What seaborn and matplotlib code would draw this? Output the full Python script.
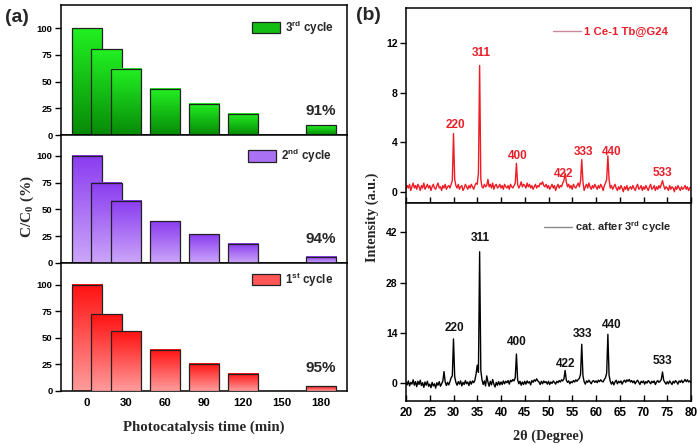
import numpy as np
import pandas as pd
import matplotlib
matplotlib.use("Agg")
import matplotlib.pyplot as plt
import seaborn as sns
from matplotlib.patches import Patch
from matplotlib.colors import to_rgb

sns.set_style("ticks")
plt.rcParams['font.family'] = ['Liberation Sans', 'DejaVu Sans']
plt.rcParams['font.weight'] = 'bold'
plt.rcParams['mathtext.fontset'] = 'custom'
plt.rcParams['mathtext.bf'] = 'Liberation Sans:bold'
plt.rcParams['mathtext.rm'] = 'Liberation Sans:bold'
plt.rcParams['mathtext.sf'] = 'Liberation Serif:bold'
plt.rcParams['axes.edgecolor'] = 'black'
plt.rcParams['xtick.color'] = 'black'
plt.rcParams['ytick.color'] = 'black'

# ---------------- data: panel (a) ----------------
times = [0, 15, 30, 60, 90, 120, 180]
cycle3 = [100, 80, 62, 43, 29, 20, 9]
cycle2 = [100, 75, 58, 39, 27, 18, 6]
cycle1 = [100, 72, 56, 38.6, 25.7, 16, 4.4]
cycle_labels = [r'3$^{\mathbf{rd}}$ cycle', r'2$^{\mathbf{nd}}$ cycle', r'1$^{\mathbf{st}}$ cycle']
removal = ['91%', '94%', '95%']
time_ticks = [0, 30, 60, 90, 120, 150, 180]
pct_ticks = [0, 25, 50, 75, 100]

# ---------------- data: panel (b) ----------------
two_theta_start, two_theta_step = 20.0, 0.25
xrd_fresh = [
    0.2, 0.5, 0.3, 0.6, 0.1, 0.4, 0.7, 0.3, 0.5, 0.2, 0.6, 0.4, 0.1, 0.5, 0.3, 0.7, 0.2, 0.4, 0.6, 0.3,
    0.5, 0.1, 0.4, 0.6, 0.3, 0.2, 0.5, 0.7, 0.3, 0.4, 0.1, 0.5, 0.3, 0.6, 0.2, 0.4, 0.5, 0.3, 0.6, 0.9,
    4.7, 1.0, 0.5, 0.3, 0.6, 0.2, 0.4, 0.5, 0.1, 0.3, 0.6, 0.4, 0.2, 0.5, 0.3, 0.6, 0.4, 0.2, 0.5, 0.7,
    0.6, 1.5, 10.2, 1.0, 0.4, 0.3, 0.6, 0.4, 0.5, 1.0, 0.4, 0.6, 0.3, 0.7, 0.2, 0.5, 0.6, 0.3, 0.4, 0.6,
    0.3, 0.5, 0.2, 0.6, 0.4, 0.3, 0.5, 0.2, 0.6, 0.4, 0.3, 0.5, 0.7, 2.3, 0.6, 0.3, 0.5, 0.8, 0.4, 0.6,
    0.5, 0.3, 0.7, 0.4, 0.6, 0.3, 0.5, 0.2, 0.4, 0.6, 0.3, 0.5, 0.4, 0.7, 0.6, 0.8, 0.5, 0.4, 0.6, 0.3,
    0.5, 0.2, 0.4, 0.6, 0.3, 0.5, 0.1, 0.4, 0.6, 0.3, 0.5, 0.4, 0.7, 0.9, 1.5, 0.8, 0.4, 0.6, 0.3, 0.5,
    0.2, 0.6, 0.4, 0.3, 0.5, 0.7, 0.4, 0.9, 2.6, 0.8, 0.1, 0.4, 0.6, 0.3, 0.7, 0.4, 0.2, 0.5, 0.3, 0.6,
    0.4, 0.2, 0.5, 0.3, 0.6, 0.4, 0.1, 0.5, 0.7, 1.0, 2.9, 1.0, 0.3, 0.5, 0.2, 0.4, 0.6, 0.3, 0.1, 0.4,
    0.2, 0.5, 0.3, 0.0, 0.4, 0.2, 0.5, 0.1, 0.3, 0.4, 0.2, 0.5, 0.3, 0.1, 0.4, 0.6, 0.2, 0.3, 0.5, 0.1,
    0.4, 0.2, 0.5, 0.3, 0.1, 0.4, 0.6, 0.2, 0.3, 0.5, 0.1, 0.4, 0.2, 0.5, 0.3, 0.6, 0.9, 0.5, 0.2, 0.4,
    0.3, 0.1, 0.5, 0.2, 0.4, 0.3, 0.0, 0.4, 0.2, 0.5, 0.3, 0.1, 0.4, 0.2, 0.3, 0.5, 0.2, 0.4, 0.1, 0.3, 0.4,
]
xrd_used = [
    0.3, -0.5, 0.6, -0.8, 0.2, -0.3, 0.9, -0.6, 0.4, -1.0, 0.5, -0.4, 0.8, -0.7, 0.1, -1.2, 0.3, -0.6, 0.5, -0.9,
    -0.3, -1.3, 0.2, -0.8, -0.2, -1.4, 0.1, -0.6, 0.4, -0.9, -0.2, 0.5, 3.2, 0.3, -0.7, 0.2, -0.5, 0.4, 1.5, 2.0,
    12.3, 1.8, 0.2, -0.6, 0.4, -0.3, 0.6, -0.8, 0.2, -0.4, 0.7, -0.2, 0.3, -0.7, 0.5, -0.3, 0.6, 0.1, 0.8, 2.5,
    5.0, 3.0, 36.6, 3.5, 0.9, -0.4, 0.6, -0.8, 2.0, 0.3, -0.9, 0.5, -0.5, 1.0, -0.3, -1.1, 0.2, -0.6, 0.4, -0.5,
    0.3, -0.4, 0.6, -0.2, 0.5, 0.1, 0.7, -0.3, 0.8, 0.4, 1.0, 0.6, 1.5, 8.1, 0.9, -0.2, 0.5, -0.6, 0.3, -0.4,
    0.5, -0.3, 0.6, 0.0, 0.4, -0.5, 0.7, 0.2, 0.9, 0.5, 1.2, 0.6, 0.3, -0.4, 0.5, -0.2, 0.6, 0.1, 0.4, -0.3,
    0.5, -0.4, 0.3, -0.1, 0.6, 0.2, -0.3, 0.5, 0.1, 0.7, 0.3, 0.9, 0.6, 1.2, 3.5, 0.8, 0.2, 0.6, -0.2, 0.4,
    0.1, 0.7, 0.3, 0.9, 0.5, 1.0, 1.3, 2.5, 10.8, 2.0, 0.4, -0.3, 0.6, 0.2, 0.8, 0.3, -0.2, 0.5, 0.7, 0.2,
    0.6, 0.1, 0.8, 0.4, 0.9, 0.5, 0.3, 1.0, 1.5, 2.8, 13.6, 2.2, 0.5, -0.3, 0.4, -0.5, 0.3, 0.8, -0.2, 0.5,
    0.1, 0.6, -0.3, 0.4, 0.8, 0.2, 0.9, 0.5, 1.0, 0.3, 0.7, 0.1, 0.6, -0.2, 0.4, 0.8, 0.2, -0.4, 0.5, 0.1,
    0.6, -0.3, 0.4, 0.0, 0.7, 0.3, -0.2, 0.5, 0.1, 0.6, -0.4, 0.3, 0.7, 0.2, 0.5, 1.0, 3.1, 0.8, 0.2, -0.3,
    0.4, -0.2, 0.6, 0.1, -0.4, 0.5, 0.0, 0.7, 0.3, -0.3, 0.6, 0.2, 0.8, 0.1, 0.5, 1.0, 0.4, 0.9, 0.3, 0.6, 0.2,
]
hkl = ['220', '311', '400', '422', '333', '440', '533']
fresh_lab_x = [30.5, 35.8, 43.6, 53.2, 57.3, 63.2, 73.9]
fresh_lab_y = [5.4, 11.25, 2.9, 1.43, 3.2, 3.2, 1.5]
used_lab_x = [30.3, 35.7, 43.3, 53.5, 57.1, 63.3, 73.9]
used_lab_y = [15.3, 40.5, 11.4, 5.4, 13.8, 16.1, 6.1]
fresh_label = '1 Ce-1 Tb@G24'
used_label = r'cat. after 3$^{\mathbf{rd}}$ cycle'

# ---------------- figure ----------------
W, H = 698, 445
fig = plt.figure(figsize=(W / 100, H / 100), dpi=100)

def ax_px(x0, y0, x1, y1):
    return fig.add_axes([x0 / W, 1 - y1 / H, (x1 - x0) / W, (y1 - y0) / H])

serif = ['Liberation Serif', 'DejaVu Serif']

# panel (a) axes
a_axes = [ax_px(61, 5, 347, 135), ax_px(61, 135, 347, 263), ax_px(61, 263, 347, 391)]
a_vals = [cycle3, cycle2, cycle1]
a_grad = [('#22f022', '#078a07'), ('#8a3cf0', '#cba6f9'), ('#ff1212', '#ff9c9c')]
a_ylim_top = [121.5, 119.6, 120.4]
a_leg = [(0.668, 0.827), (0.654, 0.836), (0.668, 0.871)]

for i, ax in enumerate(a_axes):
    df = pd.DataFrame({'time': times, 'val': a_vals[i]})
    sns.barplot(data=df, x='time', y='val', native_scale=True, width=23.5 / 15,
                errorbar=None, color=a_grad[i][0], saturation=1, ax=ax)
    top_c = np.array(to_rgb(a_grad[i][0]))
    bot_c = np.array(to_rgb(a_grad[i][1]))
    t = np.linspace(0, 1, 64)[:, None, None]
    grad = top_c[None, None, :] * (1 - t) + bot_c[None, None, :] * t
    for k, p in enumerate(list(ax.patches)):
        x, y = p.get_x(), p.get_y()
        w, h = p.get_width(), p.get_height()
        ax.imshow(grad, extent=[x, x + w, y, y + h], aspect='auto', origin='upper',
                  interpolation='bilinear', zorder=2 + 2 * k)
        p.set_facecolor('none')
        p.set_edgecolor('#222222')
        p.set_linewidth(0.9)
        p.set_zorder(3 + 2 * k)
    ax.set_xlim(-20, 200)
    ax.set_ylim(0, a_ylim_top[i])
    ax.set_yticks(pct_ticks)
    ax.set_xticks(time_ticks)
    ax.tick_params(axis='y', direction='out', length=4, width=1, labelsize=6.8, pad=2)
    ax.tick_params(axis='x', length=0, labelsize=8.2, pad=5)
    if i < 2:
        ax.tick_params(axis='x', labelbottom=False)
    for lab in ax.get_xticklabels() + ax.get_yticklabels():
        lab.set_fontweight('bold')
    for s in ax.spines.values():
        s.set_linewidth(1.1)
        s.set_color('black')
    ax.set_xlabel('')
    ax.set_ylabel('')
    ax.text(180, 22, removal[i], ha='center', va='center', fontsize=11, fontweight='bold')
    mid = tuple(0.5 * top_c + 0.5 * bot_c)
    ax.legend(handles=[Patch(facecolor=mid, edgecolor='#222222', linewidth=0.9)],
              labels=[cycle_labels[i]], loc='center left', bbox_to_anchor=a_leg[i],
              frameon=False, borderpad=0, borderaxespad=0, handlelength=2.4,
              handleheight=1.15, handletextpad=0.4, prop={'size': 8.4, 'weight': 'bold'})

fig.text(204 / W, 1 - 427 / H, 'Photocatalysis time (min)', ha='center', va='center',
         family=serif, fontsize=10.7, fontweight='bold')
fig.text(27 / W, 1 - 207 / H, r'C/C$_{\mathsf{0}}$ (%)', ha='center', va='center',
         rotation=90, family=serif, fontsize=11, fontweight='bold')
fig.text(5 / W, 1 - 17 / H, '(a)', ha='left', va='center', fontsize=14, fontweight='bold')

# panel (b) axes
b_top = ax_px(406, 8, 691, 203)
b_bot = ax_px(406, 203, 691, 401)
tt = two_theta_start + two_theta_step * np.arange(len(xrd_fresh))
tt2 = two_theta_start + two_theta_step * np.arange(len(xrd_used))

sns.lineplot(x=tt, y=xrd_fresh, ax=b_top, color='#ee1c25', linewidth=1.0,
             estimator=None, label=fresh_label)
sns.lineplot(x=tt2, y=xrd_used, ax=b_bot, color='black', linewidth=1.0,
             estimator=None, label=used_label)

for ax, lx, ly, col in [(b_top, fresh_lab_x, fresh_lab_y, '#e8202a'),
                        (b_bot, used_lab_x, used_lab_y, '#111111')]:
    for name, x, y in zip(hkl, lx, ly):
        ax.text(x, y, name, ha='center', va='center', fontsize=8.5,
                fontweight='bold', color=col)

b_top.set_xlim(20, 80)
b_bot.set_xlim(20, 80)
b_top.set_ylim(-0.91, 14.85)
b_bot.set_ylim(-5.0, 50.2)
b_top.set_yticks([0, 4, 8, 12])
b_bot.set_yticks([0, 14, 28, 42])
for ax in (b_top, b_bot):
    ax.set_xticks(np.arange(20, 81, 5))
    ax.tick_params(axis='x', direction='in', length=4, width=1, labelsize=8.5, pad=4)
    ax.tick_params(axis='y', direction='out', length=4, width=1, labelsize=7.5, pad=2)
    for lab in ax.get_xticklabels() + ax.get_yticklabels():
        lab.set_fontweight('bold')
    for s in ax.spines.values():
        s.set_linewidth(1.1)
        s.set_color('black')
    ax.set_xlabel('')
    ax.set_ylabel('')
b_top.tick_params(axis='x', labelbottom=False)

leg1 = b_top.legend(loc='center left', bbox_to_anchor=(0.516, 0.877), frameon=False,
                    borderpad=0, borderaxespad=0, handlelength=2.45, handletextpad=0.3,
                    prop={'size': 8.2, 'weight': 'bold'})
leg1.get_texts()[0].set_color('#e8202a')
leg1.get_lines()[0].set_color('#c88a9a')
leg2 = b_bot.legend(loc='center left', bbox_to_anchor=(0.484, 0.879), frameon=False,
                    borderpad=0, borderaxespad=0, handlelength=2.5, handletextpad=0.3,
                    prop={'size': 8, 'weight': 'bold'})
leg2.get_lines()[0].set_color('#8a8a8a')

fig.text(548 / W, 1 - 436 / H, '2θ (Degree)', ha='center', va='center',
         family=serif, fontsize=10.3, fontweight='bold')
fig.text(372 / W, 1 - 217 / H, 'Intensity (a.u.)', ha='center', va='center',
         rotation=90, family=serif, fontsize=10.3, fontweight='bold')
fig.text(356 / W, 1 - 16 / H, '(b)', ha='left', va='center', fontsize=14, fontweight='bold')

fig.savefig('out.png', dpi=100)
